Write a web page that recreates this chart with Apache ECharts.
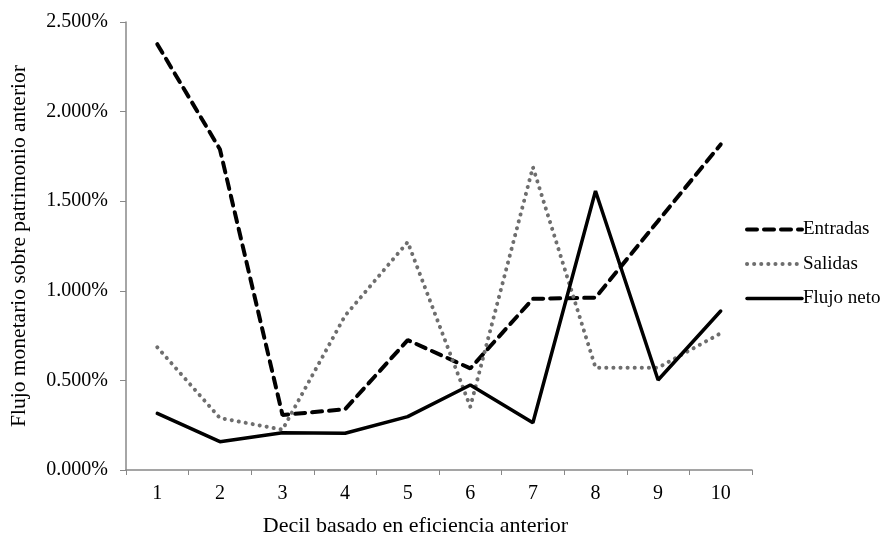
<!DOCTYPE html>
<html><head><meta charset="utf-8">
<script src="https://cdn.jsdelivr.net/npm/echarts@6/dist/echarts.min.js"></script>
<style>html,body{margin:0;padding:0;background:#fff}#c{width:885px;height:537px}</style>
</head><body><div id="c"></div>
<script>
const categories = ['1','2','3','4','5','6','7','8','9','10'];
const entradas  = [2.376, 1.79, 0.307, 0.339, 0.725, 0.567, 0.955, 0.962, 1.39, 1.817];
const salidas   = [0.685, 0.29, 0.225, 0.861, 1.272, 0.353, 1.69, 0.571, 0.571, 0.763];
const flujoNeto = [0.316, 0.158, 0.208, 0.205, 0.298, 0.474, 0.264, 1.557, 0.502, 0.887];
const yTicks = [0, 0.5, 1.0, 1.5, 2.0, 2.5];
const seriesNames = ['Entradas','Salidas','Flujo neto'];

const font = 'Liberation Serif';
const styles = [
  {color:'#000', width:4, type:[10,7], cap:'round'},
  {color:'#6e6e6e', width:4, type:[0.1,7], cap:'round'},
  {color:'#000', width:3.5, type:'solid', cap:'round'}
];
const seriesData = [entradas, salidas, flujoNeto];
const chart = echarts.init(document.getElementById('c'), null, {renderer:'canvas'});
chart.setOption({
  animation:false,
  backgroundColor:'#fff',
  textStyle:{fontFamily:font},
  grid:{left:126, right:133, top:22, bottom:67, containLabel:false, outerBoundsMode:'none'},
  legend:{
    orient:'vertical', left:745, top:220, itemGap:15.5, itemWidth:55, itemHeight:14, padding:0,
    textStyle:{fontFamily:font, fontSize:19, color:'#000', padding:[0,0,0,-4]},
    itemStyle:{opacity:0},
    data: seriesNames.map((n,i)=>({name:n, itemStyle:{opacity:0}, lineStyle:styles[i]}))
  },
  xAxis:{
    type:'category', data:categories, boundaryGap:true,
    name:'Decil basado en eficiencia anterior', nameLocation:'middle', nameGap:45,
    nameTextStyle:{fontFamily:font, fontSize:22, color:'#000', padding:[0,47,0,0]},
    axisLine:{lineStyle:{color:'#888', width:1.5}},
    axisTick:{show:true, length:5, lineStyle:{color:'#888'}},
    axisLabel:{fontFamily:font, fontSize:20, color:'#000', margin:14}
  },
  yAxis:{
    type:'value', min:yTicks[0], max:yTicks[yTicks.length-1], interval:0.5,
    name:'Flujo monetario sobre patrimonio anterior', nameLocation:'middle', nameGap:96,
    nameTextStyle:{fontFamily:font, fontSize:21.5, color:'#000'},
    axisLine:{show:true, lineStyle:{color:'#888', width:1.5}},
    axisTick:{show:true, length:6, lineStyle:{color:'#888'}},
    splitLine:{show:false},
    axisLabel:{fontFamily:font, fontSize:20, color:'#000', margin:18,
      formatter:v=>v.toFixed(3)+'%'}
  },
  series: seriesNames.map((n,i)=>({
    name:n, type:'line', data:seriesData[i], symbol:'none',
    lineStyle:styles[i], itemStyle:{color:styles[i].color}
  }))
});
</script></body></html>
